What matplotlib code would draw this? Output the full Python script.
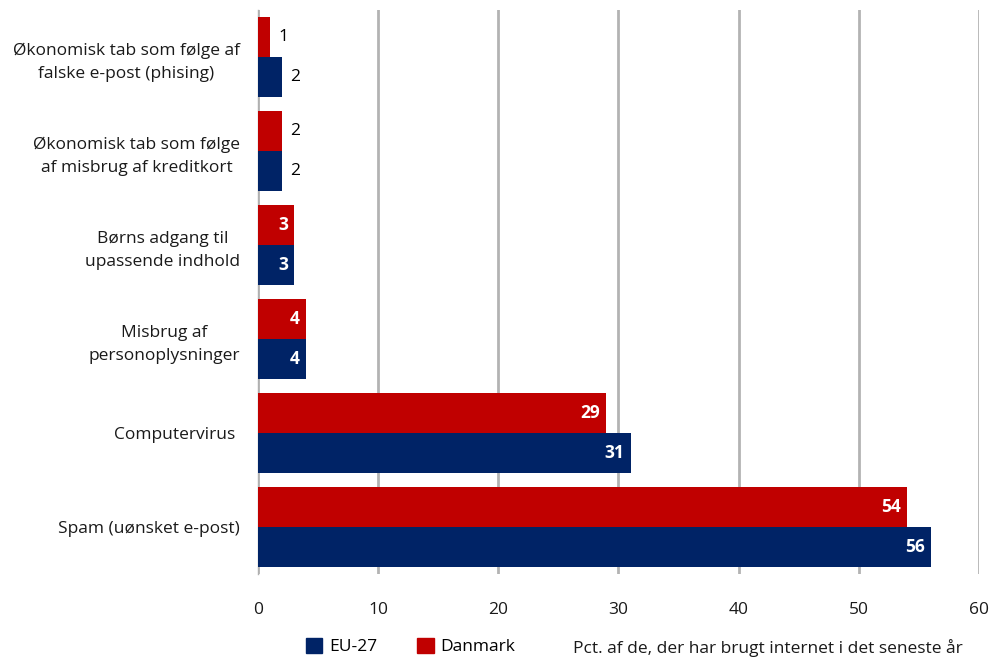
import matplotlib.pyplot as plt
from matplotlib.patches import Patch
import numpy as np

# Data
categories = [
    "Økonomisk tab som følge af\nfalske e-post (phising)",
    "Økonomisk tab som følge\naf misbrug af kreditkort",
    "Børns adgang til\nupassende indhold",
    "Misbrug af\npersonoplysninger",
    "Computervirus ",
    "Spam (uønsket e-post)",
]
danmark = [1, 2, 3, 4, 29, 54]
eu27 = [2, 2, 3, 4, 31, 56]
xticks = [0, 10, 20, 30, 40, 50, 60]

red = '#C00000'
blue = '#002366'
plt.rcParams['font.family'] = ['Open Sans', 'DejaVu Sans']
fs = 12.5

fig = plt.figure(figsize=(9.93, 6.57), dpi=100)
ax = fig.add_axes([0.2598, 0.1256, 0.7261, 0.8592])

y = np.arange(len(categories))
h = 0.425
ax.barh(y - h / 2, danmark, height=h, color=red, zorder=3)
ax.barh(y + h / 2, eu27, height=h, color=blue, zorder=3)

ax.set_ylim(len(categories) - 0.5, -0.5)
ax.set_xlim(0, 60)
ax.set_yticks(y)
ax.set_yticklabels(categories, fontsize=fs, multialignment='center', linespacing=1.55)
ax.set_xticks(xticks)
ax.set_xticklabels([str(t) for t in xticks], fontsize=fs)
ax.tick_params(axis='both', length=0, colors='#1a1a1a')
ax.tick_params(axis='y', pad=13)
ax.tick_params(axis='x', pad=20)

for s in ['top', 'right', 'bottom']:
    ax.spines[s].set_visible(False)
ax.spines['left'].set_color('#b0b0b0')
ax.spines['left'].set_linewidth(1)
ax.grid(axis='x', color='#b3b3b3', linewidth=2)
ax.set_axisbelow(True)

# value labels
for vals, off in [(danmark, -h / 2), (eu27, h / 2)]:
    for i, v in enumerate(vals):
        if v >= 3:
            ax.text(v - 0.5, i + off, str(v), ha='right', va='center',
                    color='white', fontsize=fs, fontweight='bold', zorder=4)
        else:
            ax.text(v + 0.7, i + off, str(v), ha='left', va='center',
                    color='black', fontsize=fs, zorder=4)

handles = [Patch(color=blue, label='EU-27'), Patch(color=red, label='Danmark')]
fig.legend(handles=handles, loc='lower left', bbox_to_anchor=(0.292, -0.021),
           ncol=2, frameon=False, fontsize=fs, handlelength=0.95, handleheight=0.95,
           handletextpad=0.4, columnspacing=2.3)
fig.text(0.577, 0.0065, 'Pct. af de, der har brugt internet i det seneste år',
         fontsize=fs, ha='left', va='baseline', color='#1a1a1a')

fig.savefig('out.png', dpi=100, facecolor='white')
